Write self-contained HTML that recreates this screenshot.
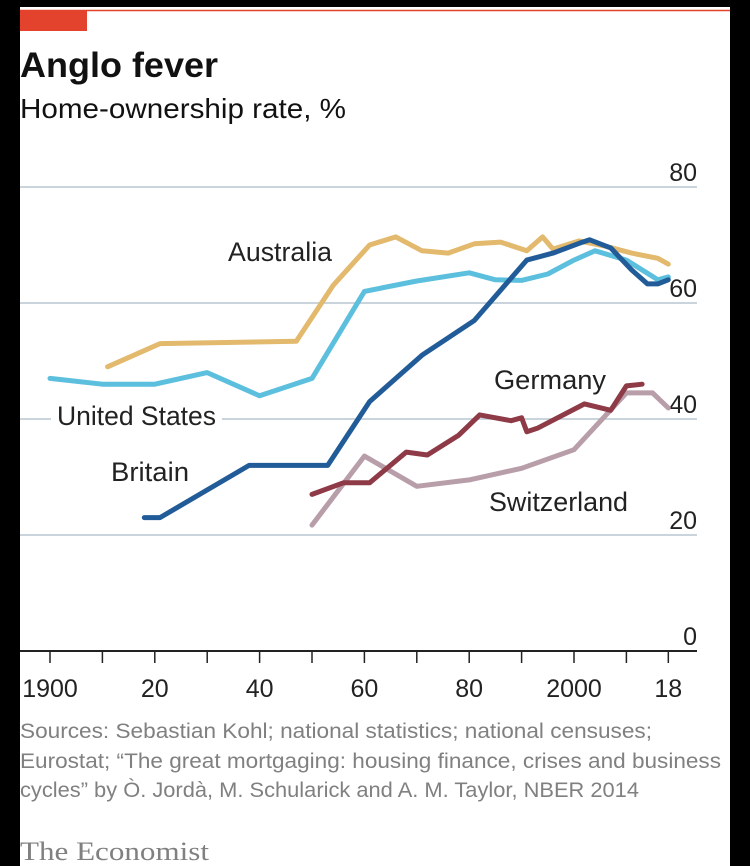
<!DOCTYPE html>
<html><head><meta charset="utf-8"><style>
body{margin:0;background:#000;width:750px;height:866px;overflow:hidden}
svg{display:block}
text{font-family:"Liberation Sans Narrow","Liberation Sans",sans-serif}
</style></head><body>
<svg id="chart" width="750" height="866">
<rect x="20" y="7" width="710" height="859" fill="#fff"/>
<line x1="20" y1="10.5" x2="730" y2="10.5" stroke="#e3432d" stroke-width="1.5"/>
<rect x="20" y="10" width="67" height="21" fill="#e3432d"/>
<text x="20" y="77" font-size="35" font-weight="bold" fill="#111" style="font-family:'Liberation Sans',sans-serif" textLength="198" lengthAdjust="spacingAndGlyphs">Anglo fever</text>
<text x="20" y="118" font-size="28" fill="#111" textLength="326" lengthAdjust="spacingAndGlyphs">Home-ownership rate, %</text>
<g id="grid"></g>
<g id="xaxis"></g>
<g id="series"></g>
<g id="labels"></g>
<text x="20" y="738" font-size="21" fill="#808080" textLength="632" lengthAdjust="spacingAndGlyphs">Sources: Sebastian Kohl; national statistics; national censuses;</text>
<text x="20" y="768" font-size="21" fill="#808080" textLength="701" lengthAdjust="spacingAndGlyphs">Eurostat; “The great mortgaging: housing finance, crises and business</text>
<text x="20" y="797" font-size="21" fill="#808080" textLength="619" lengthAdjust="spacingAndGlyphs">cycles” by Ò. Jordà, M. Schularick and A. M. Taylor, NBER 2014</text>
<text x="20" y="860" font-size="26" fill="#808080" style="font-family:'Liberation Serif',serif" textLength="189" lengthAdjust="spacingAndGlyphs">The Economist</text>
</svg>
<script>
const yTicks=[0,20,40,60,80];
const xTicks=[1900,1910,1920,1930,1940,1950,1960,1970,1980,1990,2000,2010,2018];
const xTickLabels=[[1900,"1900"],[1920,"20"],[1940,"40"],[1960,"60"],[1980,"80"],[2000,"2000"],[2018,"18"]];
const ausYears=[1911,1921,1947,1954,1961,1966,1971,1976,1981,1986,1991,1994,1996,2001,2006,2011,2016,2018];
const ausVals=[49,53,53.4,63,70,71.4,69,68.6,70.2,70.5,69,71.4,69.3,70.7,69.8,68.6,67.7,66.7];
const usYears=[1900,1910,1920,1930,1940,1950,1960,1970,1980,1985,1990,1995,2000,2004,2010,2016,2018];
const usVals=[47,46,46,48,44,47,62,63.8,65.2,64,63.9,65,67.4,69,67.4,64,64.5];
const gbYears=[1918,1921,1938,1953,1961,1971,1981,1991,1996,2001,2003,2007,2011,2014,2016,2018];
const gbVals=[23,23,32,32,43,51,57,67.4,68.6,70.3,70.9,69.5,65.7,63.3,63.3,64];
const deYears=[1950,1956,1961,1968,1972,1978,1982,1988,1990,1991,1993,2002,2007,2010,2013];
const deVals=[27,29,29,34.3,33.8,37.2,40.7,39.7,40.2,37.8,38.4,42.6,41.5,45.7,46];
const chYears=[1950,1960,1970,1980,1990,2000,2010,2015,2018];
const chVals=[21.7,33.6,28.4,29.5,31.5,34.7,44.5,44.5,41.9];
const NS="http://www.w3.org/2000/svg";
const X=yr=>50+5.24*(yr-1900);
const Y=v=>651-5.8*v;
function mk(tag,attrs,parent,txt){const e=document.createElementNS(NS,tag);for(const k in attrs)e.setAttribute(k,attrs[k]);if(txt!==undefined)e.textContent=txt;parent.appendChild(e);return e;}
const grid=document.getElementById('grid');
yTicks.forEach(v=>{
  if(v>0){const l=mk('line',{x1:20,x2:697,y1:Y(v),y2:Y(v),stroke:'#b9c6d0','stroke-width':1.5},grid);
  
  }
  const t=mk('text',{x:697,y:Y(v)-6,'font-size':25,fill:'#222','text-anchor':'end'},grid,String(v));
  
  
});
const xa=document.getElementById('xaxis');
const ax=mk('line',{x1:20,x2:697,y1:Y(0),y2:Y(0),stroke:'#222','stroke-width':2},xa);


xTicks.forEach(yr=>{const t=mk('line',{x1:X(yr),x2:X(yr),y1:Y(0),y2:Y(0)+12,stroke:'#222','stroke-width':1.5},xa);
  
  });
xTickLabels.forEach(([yr,lab])=>{const t=mk('text',{x:X(yr),y:697,'font-size':25,fill:'#222','text-anchor':'middle'},xa,lab);
  
  });
const ser=document.getElementById('series');
function line(years,vals,color,name){
  const d=years.map((yr,i)=>(i?'L':'M')+X(yr).toFixed(1)+','+Y(vals[i]).toFixed(1)).join('');
  const p=mk('path',{d:d,fill:'none',stroke:color,'stroke-width':5,'stroke-linejoin':'round','stroke-linecap':'round'},ser);
  
  
}
line(usYears,usVals,'#5bbfdd','line-united-states');
line(chYears,chVals,'#b89ea8','line-switzerland');
line(deYears,deVals,'#8e3a47','line-germany');
line(ausYears,ausVals,'#e2b96d','line-australia');
line(gbYears,gbVals,'#215c98','line-britain');
const lab=document.getElementById('labels');
function label(txt,x,y,w,name,bg){
  if(bg){const r=mk('rect',{x:x-6,y:y-24,width:w+12,height:30,fill:'#fff'},lab);
    
    }
  const t=mk('text',{x:x,y:y,'font-size':27,fill:'#222',textLength:w,lengthAdjust:'spacingAndGlyphs'},lab,txt);
  
  
}
label('Australia',228,261,104,'label-australia');
label('United States',57,425,159,'label-united-states',true);
label('Britain',111,481,78,'label-britain');
label('Germany',494,389,112,'label-germany');
label('Switzerland',489,511,139,'label-switzerland');
</script>
</body></html>
